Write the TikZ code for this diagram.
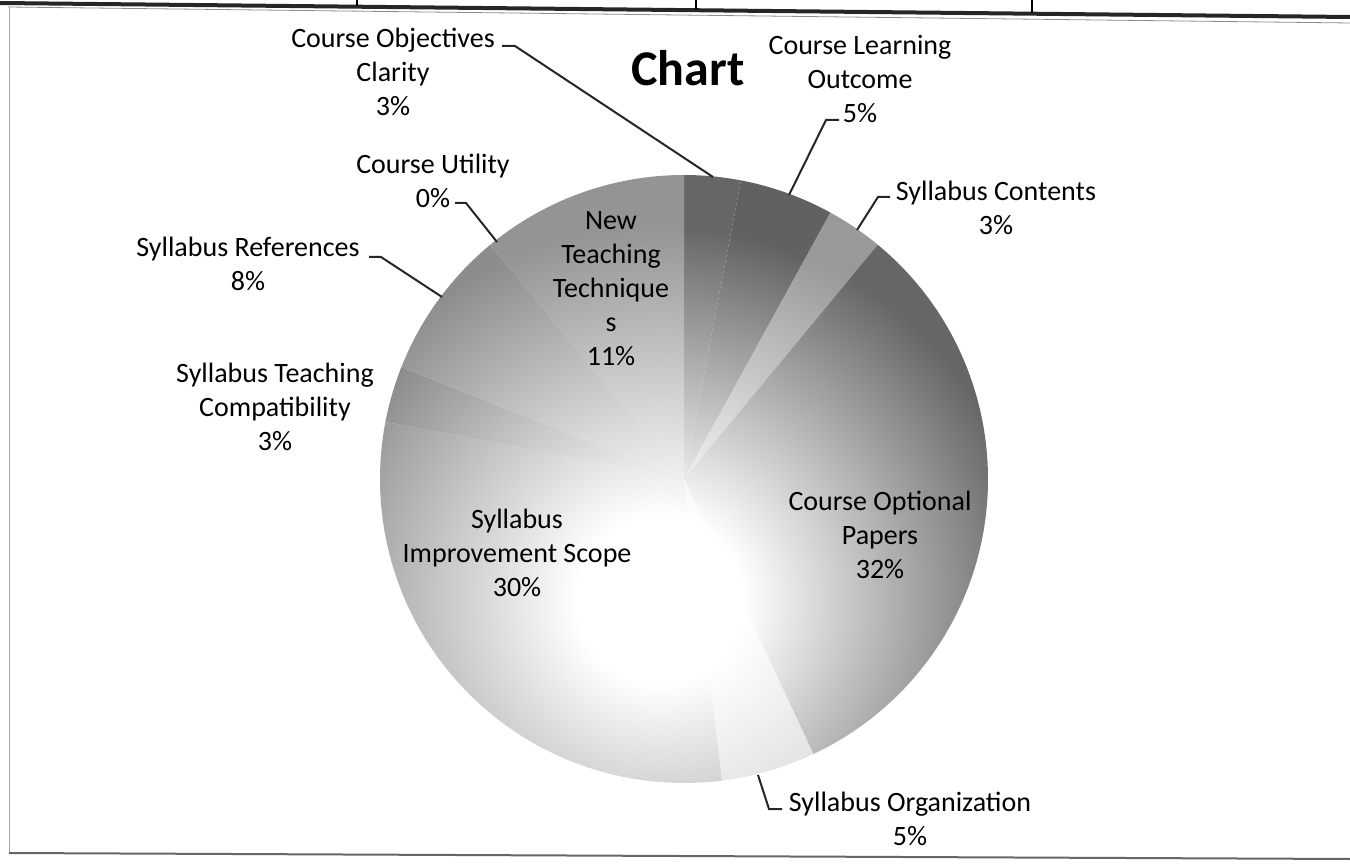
\documentclass[tikz,border=0pt]{standalone}
\usepackage{fontspec}
\setmainfont{Carlito}
\colorlet{piecol}{black!50}
\pgfdeclareradialshading[piecol]{pieglow}{\pgfpointorigin}{color(0bp)=(white); color(4bp)=(white); color(18bp)=(piecol); color(50bp)=(piecol)}

\begin{document}
\begin{tikzpicture}[x=0.5pt,y=-0.5pt,
    lbl/.style={align=center,inner sep=0pt,font=\fontsize{14pt}{17pt}\selectfont},
    leader/.style={line width=1pt,black!85},
    pie color/.code={\colorlet{piecol}{#1}},
    glow/.style={pie color=#1,shading=pieglow}]
    \useasboundingbox (0,0) rectangle (1350,866);

    % Frame
    \draw[line width=2pt,black!85] (0,3) -- (1350,17);
    \draw[black!45] (8,7) -- (1350,23);
    \draw[black!35] (9,7) -- (9,853);
    \draw[line width=1pt,black!60] (9,853) -- (1350,859);
    \draw[line width=1pt] (357,0) -- (357,6);
    \draw[line width=1pt] (696,0) -- (696,10);
    \draw[line width=1pt] (1032,0) -- (1032,13);

    % Slices
    \begin{scope}[shift={(684,479)}]
        \begin{scope}\clip (0,0) -- (-90:304) arc[start angle=-90,end angle=-79.2,radius=304] -- cycle;
            \shade[glow=black!60] (-24,121) circle[radius=520];\end{scope}
        \begin{scope}\clip (0,0) -- (-79.2:304) arc[start angle=-79.2,end angle=-61.2,radius=304] -- cycle;
            \shade[glow=black!62] (-24,121) circle[radius=520];\end{scope}
        \begin{scope}\clip (0,0) -- (-61.2:304) arc[start angle=-61.2,end angle=-50.4,radius=304] -- cycle;
            \shade[glow=black!40] (-24,121) circle[radius=520];\end{scope}
        \begin{scope}\clip (0,0) -- (-50.4:304) arc[start angle=-50.4,end angle=64.8,radius=304] -- cycle;
            \shade[glow=black!60] (-24,121) circle[radius=520];\end{scope}
        \begin{scope}\clip (0,0) -- (64.8:304) arc[start angle=64.8,end angle=82.8,radius=304] -- cycle;
            \shade[glow=black!24] (-24,121) circle[radius=520];\end{scope}
        \begin{scope}\clip (0,0) -- (82.8:304) arc[start angle=82.8,end angle=190.8,radius=304] -- cycle;
            \shade[glow=black!47] (-24,121) circle[radius=520];\end{scope}
        \begin{scope}\clip (0,0) -- (190.8:304) arc[start angle=190.8,end angle=201.6,radius=304] -- cycle;
            \shade[glow=black!50] (-24,121) circle[radius=520];\end{scope}
        \begin{scope}\clip (0,0) -- (201.6:304) arc[start angle=201.6,end angle=230.4,radius=304] -- cycle;
            \shade[glow=black!45] (-24,121) circle[radius=520];\end{scope}
        \begin{scope}\clip (0,0) -- (230.4:304) arc[start angle=230.4,end angle=270,radius=304] -- cycle;
            \shade[glow=black!42] (-24,121) circle[radius=520];\end{scope}
    \end{scope}

    % Nodes
    \node[font=\fontsize{25pt}{30pt}\selectfont\bfseries] (title) at (688,68) {Chart};
    \node[lbl] (obj) at (393,72) {Course Objectives\\Clarity\\3\%};
    \node[lbl] (clo) at (860,79) {Course Learning\\Outcome\\5\%};
    \node[lbl] (sc) at (996,208) {Syllabus Contents\\3\%};
    \node[lbl] (cu) at (433,181) {Course Utility\\0\%};
    \node[lbl] (sr) at (248,264) {Syllabus References\\8\%};
    \node[lbl] (stc) at (275,407) {Syllabus Teaching\\Compatibility\\3\%};
    \node[lbl] (ntt) at (611,289) {New\\Teaching\\Technique\\s\\11\%};
    \node[lbl] (sis) at (517,553) {Syllabus\\Improvement Scope\\30\%};
    \node[lbl] (cop) at (880,535) {Course Optional\\Papers\\32\%};
    \node[lbl] (so) at (910,819) {Syllabus Organization\\5\%};

    % Leader points
    \coordinate (objA) at (502,46);  \coordinate (objB) at (515,46);  \coordinate (objC) at (713,177);
    \coordinate (cloA) at (839,120); \coordinate (cloB) at (826,120); \coordinate (cloC) at (789,195);
    \coordinate (scA) at (890,197);  \coordinate (scB) at (878,197);  \coordinate (scC) at (857,230);
    \coordinate (cuA) at (455,203);  \coordinate (cuB) at (466,203);  \coordinate (cuC) at (497,242);
    \coordinate (srA) at (369,257);  \coordinate (srB) at (381,257);  \coordinate (srC) at (442,297);
    \coordinate (soA) at (782,809);  \coordinate (soB) at (769,809);  \coordinate (soC) at (758,775);

    % Lines
    \draw[leader] (objA) -- (objB) -- (objC);
    \draw[leader] (cloA) -- (cloB) -- (cloC);
    \draw[leader] (scA) -- (scB) -- (scC);
    \draw[leader] (cuA) -- (cuB) -- (cuC);
    \draw[leader] (srA) -- (srB) -- (srC);
    \draw[leader] (soA) -- (soB) -- (soC);
\end{tikzpicture}
\end{document}
